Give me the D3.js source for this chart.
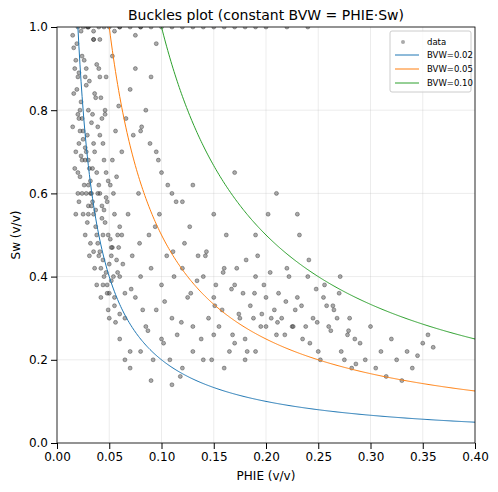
<!DOCTYPE html>
<html><head><meta charset="utf-8">
<script src="https://cdn.jsdelivr.net/npm/d3@7"></script>
<style>body{margin:0;background:#fff}</style>
</head><body><div id="chart"></div>
<script>
// scatter points: [PHIE, Sw]
var phie = [0.015,0.018,0.02,0.022,0.025,0.028,0.03,0.032,0.035,0.038,0.04,0.042,0.045,0.048,0.05,
  0.016,0.019,0.021,0.024,0.027,0.029,0.031,0.034,0.037,0.039,0.041,0.044,0.047,0.052,0.055,
  0.017,0.02,0.023,0.026,0.028,0.03,0.033,0.036,0.038,0.041,0.043,0.046,0.049,0.053,0.057,
  0.018,0.021,0.024,0.027,0.03,0.032,0.035,0.037,0.04,0.043,0.045,0.048,0.051,0.055,0.06,
  0.02,0.022,0.025,0.028,0.031,0.034,0.036,0.039,0.042,0.044,0.047,0.05,0.054,0.058,0.062,
  0.021,0.024,0.027,0.03,0.033,0.035,0.038,0.041,0.044,0.046,0.049,0.052,0.056,0.06,0.065,
  0.06,0.065,0.07,0.075,0.08,0.085,0.09,0.095,0.1,0.105,0.11,0.115,0.12,0.125,0.13,
  0.062,0.068,0.072,0.078,0.082,0.088,0.092,0.098,0.102,0.108,0.112,0.118,0.122,0.128,0.135,
  0.14,0.145,0.15,0.155,0.16,0.165,0.17,0.175,0.18,0.185,0.19,0.195,0.2,0.205,0.21,
  0.138,0.142,0.148,0.152,0.158,0.162,0.168,0.172,0.178,0.182,0.188,0.192,0.198,0.202,0.208,
  0.215,0.22,0.225,0.23,0.235,0.24,0.245,0.25,0.255,0.26,0.265,0.27,0.275,0.28,0.285,
  0.212,0.218,0.222,0.228,0.232,0.238,0.242,0.248,0.252,0.258,0.262,0.268,0.272,0.278,0.282,
  0.29,0.295,0.3,0.305,0.31,0.315,0.32,0.325,0.33,0.335,0.34,0.345,0.35,0.355,0.36,
  0.02,0.03,0.04,0.05,0.06,0.07,0.08,0.09,0.1,0.12,0.14,0.16,0.18,0.2,0.025,
  0.07,0.075,0.08,0.085,0.09,0.095,0.1,0.11,0.12,0.13,0.15,0.17,0.19,0.21,0.23,
  0.065,0.07,0.08,0.09,0.1,0.11,0.12,0.13,0.14,0.15,0.16,0.17,0.18,0.19,0.2,
  0.016,0.019,0.022,0.025,0.028,0.031,0.034,0.037,0.04,0.043,0.046,0.049,0.052,0.055,0.058,
  0.017,0.02,0.023,0.026,0.029,0.032,0.035,0.038,0.041,0.044,0.047,0.05,0.053,0.056,0.059,
  0.018,0.021,0.024,0.027,0.03,0.033,0.036,0.039,0.042,0.045,0.048,0.051,0.054,0.057,0.06,
  0.015,0.023,0.029,0.035,0.041,0.047,0.053,0.059,0.066,0.073,0.081,0.089,0.097,0.106,0.114,
  0.063,0.071,0.079,0.087,0.094,0.103,0.111,0.119,0.127,0.134,0.143,0.151,0.159,0.167,0.174,
  0.181,0.189,0.196,0.204,0.211,0.219,0.226,0.234,0.241,0.249,0.256,0.264,0.271,0.279,0.286,
  0.03,0.045,0.06,0.08,0.11,0.13,0.15,0.17,0.19,0.22,0.24,0.035,0.055,0.075,0.095];
var sw = [0.98,0.92,0.88,0.8,0.75,0.7,0.62,0.6,0.55,0.5,0.45,0.42,0.4,0.38,0.36,
  0.95,0.85,0.72,0.78,0.68,0.74,0.66,0.58,0.52,0.48,0.46,0.44,0.41,0.39,0.35,
  0.9,0.65,0.82,0.62,0.86,0.55,0.77,0.7,0.65,0.6,0.57,0.53,0.5,0.47,0.44,
  0.7,0.58,0.93,0.5,0.8,0.48,0.72,0.83,0.62,0.78,0.68,0.58,0.62,0.55,0.52,
  0.6,0.75,0.55,0.9,0.45,0.66,0.42,0.76,0.35,0.72,0.65,0.3,0.6,0.5,0.7,
  0.78,0.68,0.88,0.57,0.6,0.97,0.38,0.88,0.5,0.8,0.32,0.45,0.75,0.4,0.36,
  0.25,0.3,0.22,0.35,0.4,0.28,0.42,0.32,0.38,0.45,0.3,0.26,0.42,0.35,0.28,
  0.5,0.55,0.45,0.6,0.32,0.5,0.2,0.55,0.24,0.2,0.4,0.16,0.48,0.36,0.45,
  0.4,0.3,0.35,0.28,0.42,0.22,0.38,0.3,0.25,0.33,0.4,0.28,0.35,0.3,0.26,
  0.25,0.45,0.2,0.38,0.32,0.5,0.26,0.42,0.36,0.22,0.3,0.45,0.38,0.55,0.32,
  0.3,0.42,0.28,0.35,0.25,0.4,0.3,0.22,0.35,0.28,0.32,0.36,0.2,0.3,0.25,
  0.36,0.26,0.4,0.32,0.5,0.28,0.24,0.37,0.2,0.33,0.27,0.3,0.22,0.26,0.18,
  0.24,0.2,0.28,0.18,0.22,0.16,0.25,0.2,0.15,0.22,0.18,0.21,0.24,0.26,0.23,
  1,1,1,1,1,1,1,1,1,1,1,1,1,1,1,
  0.85,0.9,0.75,0.8,0.88,0.7,0.65,0.6,0.58,0.62,0.55,0.65,0.5,0.6,0.55,
  0.2,0.18,0.22,0.15,0.25,0.14,0.18,0.22,0.2,0.26,0.18,0.24,0.2,0.22,0.28,
  0.84,0.96,0.64,0.73,0.6,0.87,0.79,0.56,0.9,0.54,0.79,0.63,0.47,0.33,0.41,
  0.66,0.79,0.69,0.92,0.53,0.63,0.46,0.91,0.74,0.38,0.59,0.43,0.68,0.29,0.47,
  0.55,0.89,0.6,0.71,0.68,0.57,0.84,0.6,0.83,0.56,0.36,0.49,0.4,0.64,0.31,
  0.76,0.99,1.0,0.99,0.97,0.88,0.93,0.81,0.78,0.74,0.76,0.72,0.68,0.62,0.58,
  0.43,0.37,0.48,0.27,0.52,0.34,0.46,0.29,0.52,0.39,0.46,0.33,0.41,0.37,0.31,
  0.44,0.36,0.31,0.41,0.29,0.34,0.28,0.33,0.44,0.29,0.38,0.33,0.4,0.27,0.19,
  1,1,1,1,1,1,1,1,1,1,1,0.97,0.99,0.98,0.96];
var bvwValues = [0.02, 0.05, 0.10];
var bvwColors = ["#1f77b4", "#ff7f0e", "#2ca02c"];
var xTicks = [0,0.05,0.1,0.15,0.2,0.25,0.3,0.35,0.4];
var yTicks = [0,0.2,0.4,0.6,0.8,1.0];

var margin = {top: 27, right: 23, bottom: 49, left: 57},
    width = 498 - margin.left - margin.right,
    height = 492 - margin.top - margin.bottom;

var svg = d3.select("#chart").append("svg")
    .attr("width", 498).attr("height", 492)
    .style("font-family", "DejaVu Sans");
var g = svg.append("g").attr("transform", "translate(" + margin.left + "," + margin.top + ")");

var x = d3.scaleLinear().domain([0, 0.4]).range([0, width]);
var y = d3.scaleLinear().domain([0, 1]).range([height, 0]);

// grid
g.selectAll(".gx").data(xTicks).enter().append("line")
  .attr("x1", d => x(d)).attr("x2", d => x(d)).attr("y1", 0).attr("y2", height)
  .attr("stroke", "#b0b0b0").attr("stroke-opacity", 0.3).attr("stroke-width", 0.8);
g.selectAll(".gy").data(yTicks).enter().append("line")
  .attr("y1", d => y(d)).attr("y2", d => y(d)).attr("x1", 0).attr("x2", width)
  .attr("stroke", "#b0b0b0").attr("stroke-opacity", 0.3).attr("stroke-width", 0.8);

g.append("clipPath").attr("id", "clip").append("rect")
  .attr("width", width).attr("height", height);
var plot = g.append("g").attr("clip-path", "url(#clip)");

plot.selectAll("circle").data(phie).enter().append("circle")
  .attr("cx", (d) => x(d)).attr("cy", (d, i) => y(sw[i])).attr("r", 2)
  .attr("fill", "#555").attr("fill-opacity", 0.5)
  .attr("stroke", "#000").attr("stroke-opacity", 0.5).attr("stroke-width", 0.6);

// curves Sw = BVW / PHIE
var grid = d3.range(0.005, 0.4005, 0.001);
bvwValues.forEach(function(b, k) {
  plot.append("path")
    .datum(grid.filter(p => b / p <= 1.05))
    .attr("fill", "none").attr("stroke", bvwColors[k]).attr("stroke-width", 1)
    .attr("d", d3.line().x(p => x(p)).y(p => y(b / p)));
});

var ax = g.append("g").attr("transform", "translate(0," + height + ")")
  .call(d3.axisBottom(x).tickValues(xTicks).tickFormat(d3.format(".2f")).tickSizeOuter(0));
var ay = g.append("g").call(d3.axisLeft(y).tickValues(yTicks).tickFormat(d3.format(".1f")).tickSizeOuter(0));
[ax, ay].forEach(a => { a.selectAll("text").attr("font-size", 12).attr("fill", "#000").attr("font-family", "DejaVu Sans"); a.select(".domain").remove(); });

g.append("rect").attr("width", width).attr("height", height)
  .attr("fill", "none").attr("stroke", "#000").attr("stroke-width", 0.8);

svg.append("text").attr("x", margin.left + width / 2).attr("y", 20)
  .attr("text-anchor", "middle").attr("font-size", 14).text("Buckles plot (constant BVW = PHIE·Sw)");
svg.append("text").attr("x", margin.left + width / 2).attr("y", 480)
  .attr("text-anchor", "middle").attr("font-size", 12).text("PHIE (v/v)");
svg.append("text").attr("transform", "translate(20," + (margin.top + height / 2) + ") rotate(-90)")
  .attr("text-anchor", "middle").attr("font-size", 12).text("Sw (v/v)");

// legend
var lg = svg.append("g").attr("transform", "translate(390,31)");
lg.append("rect").attr("width", 81).attr("height", 61).attr("rx", 2)
  .attr("fill", "#fff").attr("fill-opacity", 0.8).attr("stroke", "#ccc");
lg.append("circle").attr("cx", 13).attr("cy", 11).attr("r", 2).attr("fill", "#555").attr("fill-opacity", 0.5);
lg.append("text").attr("x", 37).attr("y", 14).attr("font-size", 8.5).text("data");
bvwValues.forEach(function(b, k) {
  var yy = 24 + k * 14;
  lg.append("line").attr("x1", 5).attr("x2", 29).attr("y1", yy).attr("y2", yy)
    .attr("stroke", bvwColors[k]).attr("stroke-width", 1);
  lg.append("text").attr("x", 37).attr("y", yy + 3).attr("font-size", 8.5).text("BVW=" + b.toFixed(2));
});
</script></body></html>
